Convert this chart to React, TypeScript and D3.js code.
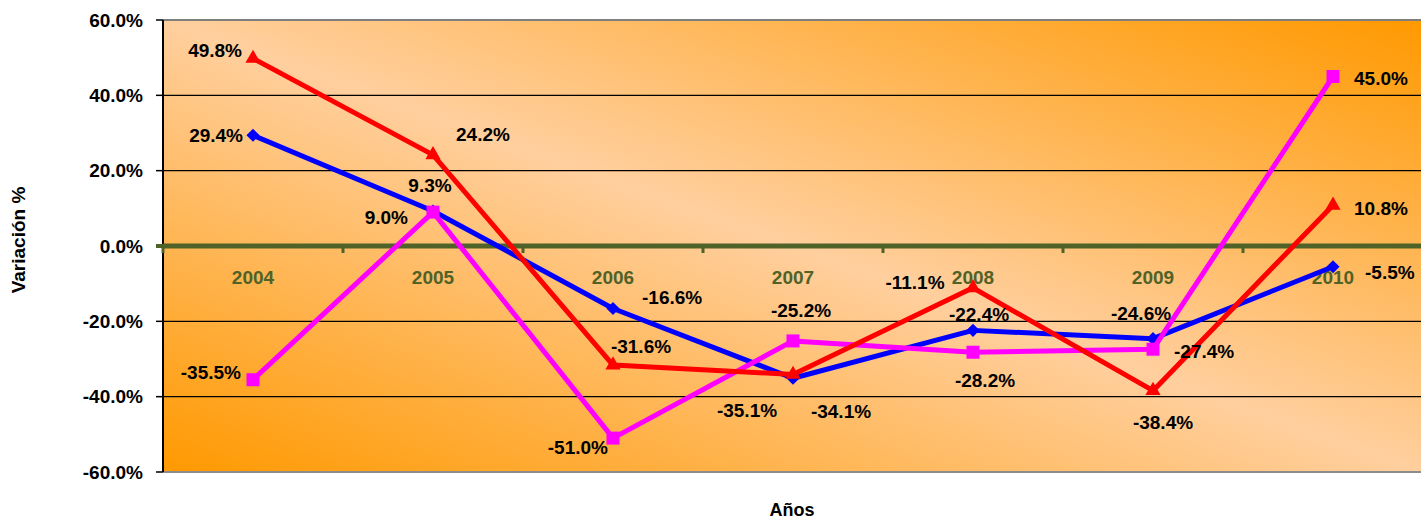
import React from "react";
import * as d3 from "d3";

const years = ["2004", "2005", "2006", "2007", "2008", "2009", "2010"];
const blueValues = [29.4, 9.3, -16.6, -35.1, -22.4, -24.6, -5.5];
const redValues = [49.8, 24.2, -31.6, -34.1, -11.1, -38.4, 10.8];
const magentaValues = [-35.5, 9.0, -51.0, -25.2, -28.2, -27.4, 45.0];
const yTicks = [-60, -40, -20, 0, 20, 40, 60];

// label layout: [dx, dy, anchor]
type Lbl = [number, number, string];
const blueLabels: Lbl[] = [
  [-10, 0, "end"], [-3, -26, "middle"], [29, -11, "start"], [-46, 32, "middle"],
  [6, -16, "middle"], [-12, -25, "middle"], [32, 6, "start"],
];
const redLabels: Lbl[] = [
  [-11, -8, "end"], [23, -20, "start"], [28, -19, "middle"], [48, 37, "middle"],
  [-58, -5, "middle"], [10, 32, "middle"], [21, 3, "start"],
];
const magentaLabels: Lbl[] = [
  [-12, -7, "end"], [-25, 5, "end"], [-5, 9, "end"], [8, -31, "middle"],
  [12, 28, "middle"], [21, 2, "start"], [21, 2, "start"],
];

const W = 1421, H = 520;
const left = 163, right = 1423, top = 20, bottom = 472;
const font = "'Liberation Sans', Arial, sans-serif";
const olive = "#4F6228";
const pct = (v: number) => `${v.toFixed(1)}%`;

export default function App() {
  const x = d3.scaleBand<string>().domain(years).range([left, right]);
  const y = d3.scaleLinear().domain([-60, 60]).range([bottom, top]);
  const cx = (i: number) => (x(years[i]) as number) + x.bandwidth() / 2;

  const line = d3.line<number>().x((_, i) => cx(i)).y((v) => y(v));

  const series = [
    { name: "blue", values: blueValues, color: "#0000FF", symbol: d3.symbolDiamond2, size: 110, labels: blueLabels },
    { name: "magenta", values: magentaValues, color: "#FF00FF", symbol: d3.symbolSquare, size: 169, labels: magentaLabels },
    { name: "red", values: redValues, color: "#FF0000", symbol: d3.symbolTriangle, size: 100, labels: redLabels },
  ];

  const boundaries = d3.range(years.length + 1).map((k) => left + k * x.bandwidth());

  return (
    <svg width={W} height={H} style={{ position: "absolute", left: 0, top: 0, background: "#fff" }} fontFamily={font}>
      <defs>
        <linearGradient id="bg" x1="0" y1="1" x2="1" y2="0">
          <stop offset="0" stopColor="#FF9900" />
          <stop offset="0.5" stopColor="#FFCF9E" />
          <stop offset="1" stopColor="#FF9900" />
        </linearGradient>
      </defs>
      <rect x={left} y={top} width={right - left} height={bottom - top} fill="url(#bg)" />
      {/* borders */}
      <line x1={left} x2={right} y1={top} y2={top} stroke="#7f7f7f" strokeWidth={2} />
      <line x1={left} x2={right} y1={bottom} y2={bottom} stroke="#8c8c8c" strokeWidth={2} />
      {/* gridlines */}
      {yTicks.filter((t) => t !== 0 && Math.abs(t) !== 60).map((t) => (
        <line key={t} x1={left} x2={right} y1={y(t)} y2={y(t)} stroke="#000" strokeWidth={1.2} />
      ))}
      {/* y axis */}
      <line x1={left} x2={left} y1={top} y2={bottom} stroke="#000" strokeWidth={2} />
      {yTicks.map((t) => (
        <g key={t}>
          <line x1={left - 7} x2={left} y1={y(t)} y2={y(t)} stroke={t === 0 ? olive : "#000"} strokeWidth={t === 0 ? 4 : 1.5} />
          <text x={143} y={y(t)} dy="0.35em" textAnchor="end" fontSize={19} fontWeight="bold" fill="#000">
            {pct(t)}
          </text>
        </g>
      ))}
      {/* zero axis */}
      <line x1={left} x2={right} y1={y(0)} y2={y(0)} stroke={olive} strokeWidth={5} />
      {boundaries.map((bx, k) => (
        <line key={k} x1={bx} x2={bx} y1={y(0)} y2={y(0) + 7} stroke={olive} strokeWidth={3} />
      ))}
      {years.map((yr, i) => (
        <text key={yr} x={cx(i)} y={y(0) + 38} textAnchor="middle" fontSize={19} fontWeight="bold" fill={olive}>
          {yr}
        </text>
      ))}
      {/* series */}
      {series.map((s) => (
        <g key={s.name}>
          <path d={line(s.values) as string} fill="none" stroke={s.color} strokeWidth={5} strokeLinejoin="round" />
          {s.values.map((v, i) => (
            <path key={i} d={d3.symbol().type(s.symbol).size(s.size)() as string}
              transform={`translate(${cx(i)},${y(v)})`} fill={s.color} />
          ))}
        </g>
      ))}
      {/* labels */}
      {series.map((s) =>
        s.values.map((v, i) => (
          <text key={s.name + i} x={cx(i) + s.labels[i][0]} y={y(v) + s.labels[i][1]} dy="0.35em"
            textAnchor={s.labels[i][2] as any} fontSize={19} fontWeight="bold" fill="#000">
            {pct(v)}
          </text>
        ))
      )}
      {/* axis titles */}
      <text transform={`translate(25,${240}) rotate(-90)`} textAnchor="middle" fontSize={19} fontWeight="bold" fill="#000">
        Variación %
      </text>
      <text x={792} y={516} textAnchor="middle" fontSize={18} fontWeight="bold" fill="#000">
        Años
      </text>
    </svg>
  );
}
